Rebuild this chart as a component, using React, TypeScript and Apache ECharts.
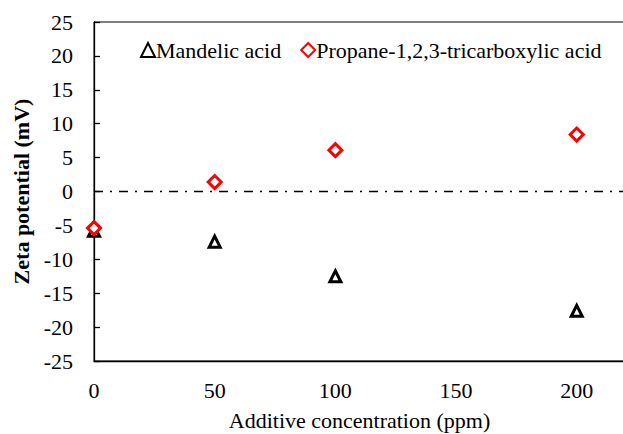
import React, { useEffect, useRef } from "react";
import * as echarts from "echarts";

const concentrations = [0, 50, 100, 200];
const mandelic = [-5.8, -7.4, -12.5, -17.6];
const propane = [-5.4, 1.4, 6.1, 8.4];
const seriesNames = ["Mandelic acid", "Propane-1,2,3-tricarboxylic acid"];
const zeroLine = [[0, 0], [220, 0]];

const FONT = "Liberation Serif";

const txt = (size: number, weight: string = "normal") => ({
  fontFamily: FONT,
  fontSize: size,
  fontWeight: weight,
  color: "#000",
});

export default function App() {
  const ref = useRef<HTMLDivElement>(null);
  useEffect(() => {
    if (!ref.current) return;
    const chart = echarts.init(ref.current, undefined, { renderer: "svg" });
    chart.setOption({
      animation: false,
      textStyle: txt(22),
      grid: {
        left: 94,
        top: 22,
        right: -2,
        bottom: 73,
        outerBoundsMode: "none",
        containLabel: false,
        show: true,
        borderColor: "#000",
        borderWidth: 1,
      },
      legend: {
        left: 135,
        top: 34,
        itemWidth: 14,
        itemHeight: 14,
        itemGap: 19,
        textStyle: { ...txt(22), padding: [0, 0, 0, -4] },
        data: seriesNames,
      },
      xAxis: {
        type: "value",
        min: 0,
        max: 220,
        interval: 50,
        name: "Additive concentration (ppm)",
        nameLocation: "middle",
        nameGap: 48,
        nameTextStyle: txt(22),
        axisLine: { show: true, onZero: false, lineStyle: { color: "#000", width: 1.3 } },
        axisTick: { show: false },
        splitLine: { show: false },
        axisLabel: {
          ...txt(22),
          margin: 18,
          formatter: (v: number) => (v > 200 ? "" : String(v)),
        },
      },
      yAxis: {
        type: "value",
        min: -25,
        max: 25,
        interval: 5,
        name: "Zeta potential (mV)",
        nameLocation: "middle",
        nameGap: 62,
        nameTextStyle: txt(22, "bold"),
        axisLine: { show: true, onZero: false, lineStyle: { color: "#000", width: 1.3 } },
        axisTick: { show: true, inside: true, length: 6, lineStyle: { color: "#000", width: 1.3 } },
        splitLine: { show: false },
        axisLabel: { ...txt(22), margin: 21 },
      },
      series: [
        {
          name: "zero",
          type: "line",
          data: zeroLine,
          symbol: "none",
          silent: true,
          lineStyle: { color: "#000", width: 1.6, type: [9, 7, 2, 7] },
          z: 1,
        },
        {
          name: seriesNames[0],
          type: "scatter",
          symbol: "triangle",
          symbolSize: 11,
          itemStyle: { color: "#fff", borderColor: "#000", borderWidth: 3, opacity: 1 },
          data: concentrations.map((x, i) => [x, mandelic[i]]),
          z: 2,
        },
        {
          name: seriesNames[1],
          type: "scatter",
          symbol: "diamond",
          symbolSize: 13,
          itemStyle: { color: "#fff", borderColor: "#ff0000", borderWidth: 3, opacity: 1 },
          data: concentrations.map((x, i) => [x, propane[i]]),
          z: 3,
        },
      ],
    });
    return () => chart.dispose();
  }, []);
  return <div ref={ref} style={{ width: 623, height: 434, position: "absolute", left: 0, top: 0 }} />;
}
